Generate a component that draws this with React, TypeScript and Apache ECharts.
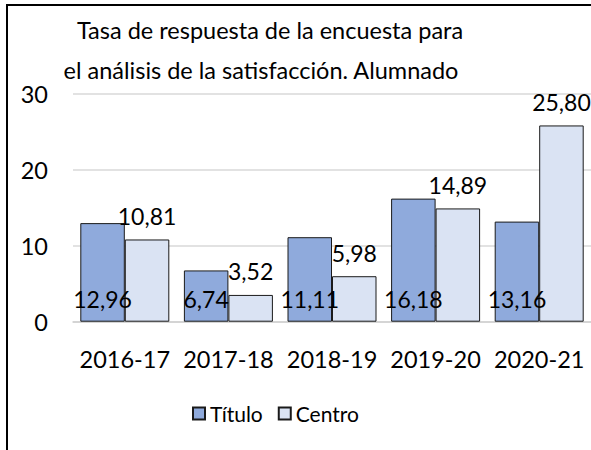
import React, { useEffect, useRef } from "react";
import * as echarts from "echarts";

const titleLines = [
  "Tasa de respuesta de la encuesta para",
  "el análisis de la satisfacción. Alumnado",
];
const categories = ["2016-17", "2017-18", "2018-19", "2019-20", "2020-21"];
const tituloValues = [12.96, 6.74, 11.11, 16.18, 13.16];
const centroValues = [10.81, 3.52, 5.98, 14.89, 25.8];
const seriesNames = ["Título", "Centro"];
const yTicks = { min: 0, max: 30, interval: 10 };

const FONT = "Lato, 'Open Sans', sans-serif";
const fmt = (p: any) => Number(p.value).toFixed(2).replace(".", ",");

export default function App() {
  const ref = useRef<HTMLDivElement>(null);
  useEffect(() => {
    document.body.style.margin = "0";
    if (!ref.current) return;
    const chart = echarts.init(ref.current, undefined, { renderer: "svg" });
    chart.setOption({
      animation: false,
      backgroundColor: "#ffffff",
      textStyle: { fontFamily: FONT },
      graphic: [
        {
          type: "line",
          shape: { x1: 7, y1: 5, x2: 7, y2: 450 },
          style: { stroke: "#000", lineWidth: 2 },
        },
        {
          type: "line",
          shape: { x1: 6, y1: 5, x2: 591, y2: 5 },
          style: { stroke: "#000", lineWidth: 2 },
        },
        {
          type: "text",
          x: 270,
          y: 30,
          style: {
            text: titleLines[0],
            font: `23.5px ${FONT}`,
            fill: "#000",
            align: "center",
            verticalAlign: "middle",
          },
        },
        {
          type: "text",
          x: 261,
          y: 70,
          style: {
            text: titleLines[1],
            font: `23.5px ${FONT}`,
            fill: "#000",
            align: "center",
            verticalAlign: "middle",
          },
        },
      ],
      legend: {
        data: seriesNames,
        left: 192,
        top: 403,
        padding: 0,
        itemWidth: 12,
        itemHeight: 12,
        itemGap: 15,
        icon: "rect",
        textStyle: { fontSize: 21, color: "#000", fontFamily: FONT },
      },
      grid: { left: 73, top: 93.5, width: 520, height: 228.2, containLabel: false },
      xAxis: {
        type: "category",
        data: categories,
        axisLine: { show: true, lineStyle: { color: "#D0D0D0", width: 1.5 } },
        axisTick: { show: false },
        axisLabel: { interval: 0, fontSize: 23.5, color: "#000", margin: 25, fontFamily: FONT },
      },
      yAxis: {
        type: "value",
        min: yTicks.min,
        max: yTicks.max,
        interval: yTicks.interval,
        axisLine: { show: false },
        axisTick: { show: false },
        axisLabel: { fontSize: 23.5, color: "#000", margin: 25, fontFamily: FONT },
        splitLine: { lineStyle: { color: "#D9D9D9", width: 1.5 } },
      },
      series: [
        {
          name: seriesNames[0],
          type: "bar",
          data: tituloValues,
          barWidth: 44.5,
          barGap: "0%",
          itemStyle: { color: "#8FAADC", borderColor: "#1a1a1a", borderWidth: 1 },
          label: {
            show: true,
            position: "insideBottom",
            distance: 11,
            formatter: fmt,
            fontSize: 23,
            color: "#000",
            fontFamily: FONT,
          },
        },
        {
          name: seriesNames[1],
          type: "bar",
          data: centroValues,
          barWidth: 44.5,
          barGap: "0%",
          itemStyle: { color: "#DAE3F3", borderColor: "#1a1a1a", borderWidth: 1 },
          label: {
            show: true,
            position: "top",
            distance: 12,
            formatter: fmt,
            fontSize: 23,
            color: "#000",
            fontFamily: FONT,
          },
        },
      ],
    });
    return () => chart.dispose();
  }, []);
  return <div ref={ref} style={{ width: 591, height: 450 }} />;
}
